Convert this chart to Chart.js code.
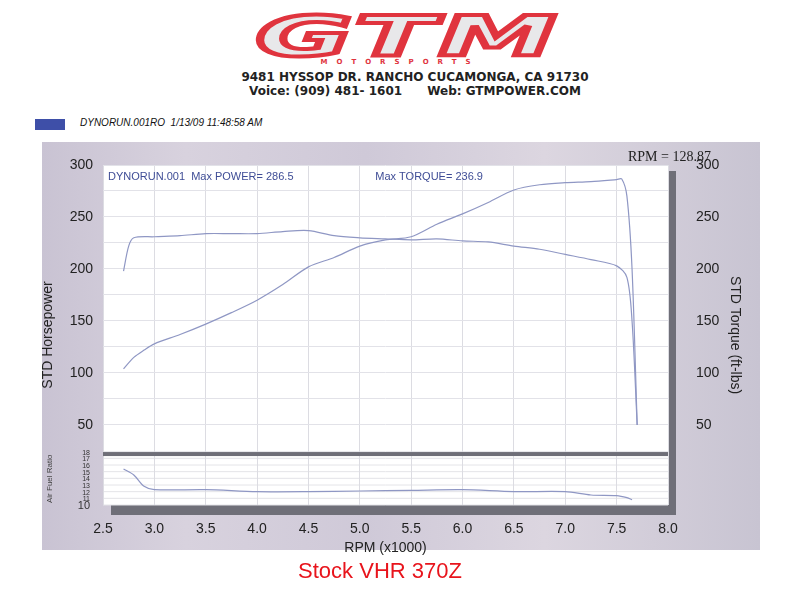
<!DOCTYPE html>
<html lang="en">
<head>
<meta charset="UTF-8">
<title>Stock VHR 370Z</title>
<script src="https://cdn.jsdelivr.net/npm/chart.js@4.4.1/dist/chart.umd.min.js"></script>
<style>
  body { margin: 0; background: #fff; font-family: "Liberation Sans", Arial, sans-serif; }
  #wrap { position: relative; width: 800px; height: 600px; overflow: hidden; }
  .frame {
    position: absolute; left: 42px; top: 142px; width: 718px; height: 408px;
    background: linear-gradient(90deg, #c9c3d3, #d8d2de 20%, #cfc9d8 45%, #dcd6e0 70%, #c8c4d2);
  }
  .logo {
    position: absolute; left: 218px; top: 8px; width: 380px; text-align: center;
    font: italic 900 56px "DejaVu Sans", sans-serif; color: #e8e8ea; letter-spacing: 2px;
    -webkit-text-stroke: 4px #e0343e; line-height: 56px; transform: scaleX(2.1); transform-origin: center;
  }
  .sub { position: absolute; left: 0; width: 800px; text-align: center; top: 58px; font: bold 7px "DejaVu Sans"; color: #e0343e; letter-spacing: 9px; }
  .addr { position: absolute; left: 200px; top: 70px; width: 430px; text-align: center; font: bold 12px "DejaVu Sans"; color: #222; line-height: 14px; }
  .leg { position: absolute; left: 35px; top: 119px; width: 30px; height: 11px; background: #3e4fa8; }
  .legt { position: absolute; left: 80px; top: 117px; font: italic 10px "Liberation Sans"; color: #111; }
  .foot { position: absolute; left: 0; width: 760px; top: 558px; text-align: center; font: 22px "Liberation Sans"; color: #e8141c; }
  canvas { position: absolute; left: 0; top: 0; }
</style>
</head>
<body>
<div id="wrap">
  <div class="logo">GTM</div>
  <div class="sub">MOTORSPORTS</div>
  <div class="addr">9481 HYSSOP DR. RANCHO CUCAMONGA, CA 91730<br>Voice: (909) 481- 1601 &nbsp;&nbsp;&nbsp;&nbsp; Web: GTMPOWER.COM</div>
  <div class="leg"></div>
  <div class="legt">DYNORUN.001RO &nbsp;1/13/09 11:48:58 AM</div>
  <div class="frame"></div>
  <canvas id="dyno" width="800" height="600"></canvas>
  <div class="foot">Stock VHR 370Z</div>
</div>

<script>
  // values (rpm x1000)
  const powerRpm = [2.7, 2.8, 2.9, 3.0, 3.25, 3.5, 3.75, 4.0, 4.25, 4.5, 4.75, 5.0, 5.25, 5.5, 5.75, 6.0, 6.25, 6.5, 6.75, 7.0, 7.25, 7.5, 7.55, 7.6, 7.65, 7.7];
  const power    = [104, 115, 122, 128, 137, 147, 158, 170, 185, 202, 211, 222, 228, 231, 243, 253, 264, 276, 281, 283, 284, 286, 286.5, 270, 200, 50];
  const torqueRpm = [2.7, 2.75, 2.8, 3.0, 3.25, 3.5, 3.75, 4.0, 4.25, 4.5, 4.75, 5.0, 5.25, 5.5, 5.75, 6.0, 6.25, 6.5, 6.75, 7.0, 7.25, 7.5, 7.6, 7.65, 7.7];
  const torque    = [198, 222, 230, 231, 232, 234, 234, 234, 236, 236.9, 232, 230, 229, 228, 229, 227, 226, 222, 219, 214, 209, 203, 192, 150, 50];
  const afrRpm = [2.7, 2.8, 2.9, 3.0, 3.5, 4.0, 4.5, 5.0, 5.5, 6.0, 6.5, 7.0, 7.25, 7.5, 7.6, 7.65];
  const afr    = [15.4, 14.5, 12.8, 12.3, 12.3, 12.0, 12.0, 12.1, 12.2, 12.3, 12.0, 12.0, 11.5, 11.4, 11.1, 10.8];
  const hpTicks = [50, 100, 150, 200, 250, 300];

  const lineCol = '#8f97c4';
  const toXY = (xs, ys) => xs.map((x, i) => ({ x: x, y: ys[i] }));
  const topMin = -27; // left/right scales extend under the AFR strip

  const dynoFrame = {
    id: 'dynoFrame',
    beforeDraw(c) {
      const { ctx, chartArea: a, scales } = c;
      ctx.save();
      ctx.fillStyle = '#6f6f78';
      ctx.fillRect(a.left + 8, a.top + 6, a.right - a.left, a.bottom - a.top + 4);
      ctx.fillStyle = '#fff';
      ctx.fillRect(a.left, a.top, a.right - a.left, a.bottom - a.top);
      ctx.strokeStyle = '#e4e4e8';
      ctx.lineWidth = 1;
      for (let v = 10; v <= 18; v += 1) {
        const py = scales.yAfr.getPixelForValue(v);
        ctx.beginPath(); ctx.moveTo(a.left, py); ctx.lineTo(a.right, py); ctx.stroke();
      }
      ctx.restore();
    },
    afterDatasetsDraw(c) {
      const { ctx, chartArea: a, scales } = c;
      ctx.save();
      const sep = scales.y.getPixelForValue(22);
      ctx.fillStyle = '#6f6f78';
      ctx.fillRect(a.left, sep - 2, a.right - a.left, 4);
      ctx.fillStyle = '#3f4d96';
      ctx.font = '11px "Liberation Sans"';
      ctx.fillText('DYNORUN.001  Max POWER= 286.5', a.left + 5, a.top + 15);
      ctx.fillText('Max TORQUE= 236.9', scales.x.getPixelForValue(5.15), a.top + 15);
      ctx.fillStyle = '#222';
      ctx.font = '14px "Liberation Serif"';
      ctx.fillText('RPM = 128.87', 628, 161);
      ctx.font = '8px "Liberation Sans"';
      ctx.translate(52, 503);
      ctx.rotate(-Math.PI / 2);
      ctx.fillStyle = '#444';
      ctx.fillText('Air Fuel Ratio', 0, 0);
      ctx.restore();
      ctx.save();
      ctx.fillStyle = '#333';
      ctx.font = '11px "Liberation Sans"';
      ctx.textAlign = 'right';
      ctx.fillText('10', 90, 509);
      ctx.font = '7px "Liberation Sans"';
      for (let v = 11; v <= 18; v++) ctx.fillText(String(v), 90, scales.yAfr.getPixelForValue(v) + 3);
      ctx.restore();
    }
  };

  new Chart('dyno', {
    type: 'line',
    data: {
      datasets: [
        { data: toXY(powerRpm, power), yAxisID: 'y' },
        { data: toXY(torqueRpm, torque), yAxisID: 'y2' },
        { data: toXY(afrRpm, afr), yAxisID: 'yAfr' }
      ].map(d => Object.assign(d, { borderColor: lineCol, borderWidth: 1.2, pointRadius: 0, tension: 0.3, fill: false }))
    },
    options: {
      responsive: false,
      animation: false,
      layout: { padding: { left: 40, right: 57, top: 165, bottom: 43 } },
      plugins: { legend: { display: false }, tooltip: { enabled: false } },
      scales: {
        x: {
          type: 'linear', min: 2.5, max: 8.0,
          ticks: { stepSize: 0.5, callback: v => v.toFixed(1), color: '#222', font: { size: 14, family: 'Liberation Sans' }, padding: 16 },
          grid: { color: '#dcdce2', drawTicks: false },
          border: { display: false },
          title: { display: true, text: 'RPM (x1000)', color: '#222', font: { size: 14, family: 'Liberation Sans' }, padding: 0 },
          afterFit: s => { s.height = 52; }
        },
        y: {
          position: 'left', min: topMin, max: 300,
          afterBuildTicks: s => { s.ticks = [25, 50, 75, 100, 125, 150, 175, 200, 225, 250, 275, 300].map(v => ({ value: v })); },
          ticks: { callback: v => hpTicks.includes(v) ? v : '', color: '#222', font: { size: 14, family: 'Liberation Sans' }, padding: 10 },
          grid: { color: c => (c.tick && c.tick.value > 25) ? '#e2e2e8' : 'transparent', drawTicks: false },
          border: { display: false },
          title: { display: true, text: 'STD Horsepower', color: '#222', font: { size: 14, family: 'Liberation Sans' }, padding: 0 },
          afterFit: s => { s.width = 63; }
        },
        y2: {
          position: 'right', min: topMin, max: 300,
          afterBuildTicks: s => { s.ticks = hpTicks.map(v => ({ value: v })); },
          ticks: { color: '#222', font: { size: 14, family: 'Liberation Sans' }, padding: 20 },
          grid: { display: false },
          border: { display: false },
          title: { display: true, text: 'STD Torque (ft-lbs)', color: '#222', font: { size: 14, family: 'Liberation Sans' }, padding: 0 },
          afterFit: s => { s.width = 75; }
        },
        yAfr: { display: false, min: 10, max: 61 }
      }
    },
    plugins: [dynoFrame]
  });
</script>
</body>
</html>
